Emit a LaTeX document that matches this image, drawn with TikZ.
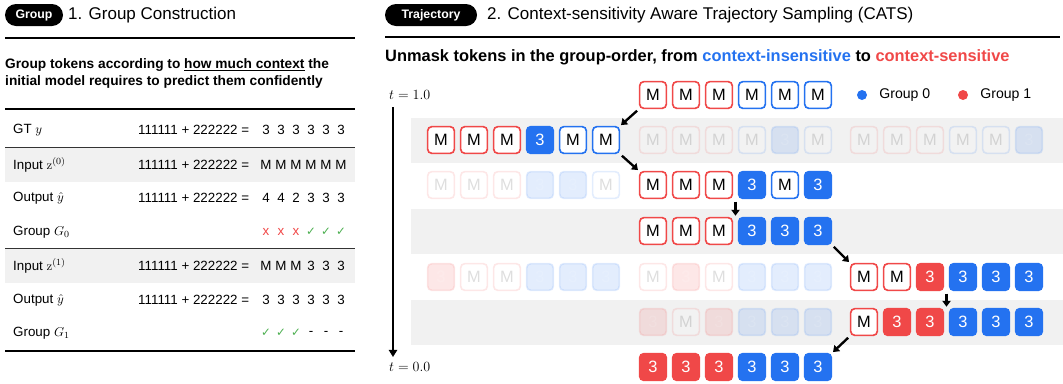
\documentclass[tikz,border=0pt]{standalone}
\usepackage{amsmath,amssymb}
\usepackage[no-math]{fontspec}
\setmainfont{Liberation Sans}
\newfontfamily\symfont{DejaVu Sans}
\usetikzlibrary{arrows.meta, positioning, calc}
\definecolor{catsred}{RGB}{240,72,72}
\definecolor{catsblue}{RGB}{36,114,240}
\definecolor{catsgreen}{RGB}{76,175,80}
\definecolor{bandgrey}{RGB}{241,241,241}
% one row of six tokens: [extra options]{name}{x of first}{y}{style/text list}
\newcommand{\tokrow}[5][]{%
  \foreach \s/\c [count=\k from 0] in {#5}
    \node[\s,#1] (#2\k) at ({#3+\k*33},#4) {\c};}
\newcommand{\okmark}{{\symfont\color{catsgreen}\fontsize{10}{10}\selectfont ✓}}
\newcommand{\nomark}{{\color{catsred}x}}

\begin{document}
\begin{tikzpicture}[
  x=0.03cm, y=-0.03cm,
  badge/.style={fill=black, text=white, rounded corners=0.33cm,
                minimum height=0.66cm, inner sep=0pt,
                font=\bfseries\fontsize{10.5}{10.5}\selectfont},
  head/.style={anchor=west, inner sep=0pt, font=\fontsize{14.5}{14.5}\selectfont},
  lead/.style={anchor=west, inner sep=0pt, align=left,
               font=\bfseries\fontsize{11.7}{14.5}\selectfont},
  rule/.style={line width=2.4pt},
  thinrule/.style={line width=0.9pt, black!80},
  cell/.style={inner sep=0pt, font=\fontsize{11.4}{11.4}\selectfont},
  tok/.style={minimum size=0.8cm, inner sep=0pt, rounded corners=3.5pt,
              line width=1.4pt, font=\fontsize{14}{14}\selectfont},
  mR/.style={tok, draw=catsred, fill=white},
  mB/.style={tok, draw=catsblue, fill=white},
  fR/.style={tok, draw=catsred, fill=catsred, text=white},
  fB/.style={tok, draw=catsblue, fill=catsblue, text=white},
  ghost/.style={opacity=0.13},
  dot/.style={circle, minimum size=0.3cm, inner sep=0pt},
  legend/.style={inner sep=0pt, font=\fontsize{12}{12}\selectfont},
  tlab/.style={anchor=west, inner sep=0pt, font=\fontsize{12}{12}\selectfont},
  stepArr/.style={-{Triangle[length=5pt,width=7pt]}, line width=2pt,
                  shorten <=2pt, shorten >=1pt},
  timeArr/.style={-{Triangle[length=6pt,width=7pt]}, line width=2.2pt}
]
\useasboundingbox (0,0) rectangle (1063,383);

%%% 1. group construction
\node[badge, minimum width=1.74cm] (gBadge) at (34,15) {Group};
\node[head] (gTitle) at (68,15) {1. Group Construction};
\draw[rule] (5,38) -- (355,38);
\node[lead] (gLead) at (5,73.5)
  {Group tokens according to \underline{how much context} the\\
   initial model requires to predict them confidently};
% table
\fill[bandgrey] (5,148) rectangle (355,182);
\fill[bandgrey] (5,249) rectangle (355,283);
\draw[rule] (5,109) -- (355,109);
\draw[thinrule] (5,147.5) -- (355,147.5);
\draw[thinrule] (5,248.5) -- (355,248.5);
\draw[rule] (5,351) -- (355,351);
\foreach \y/\lab [count=\i] in {130/GT $y$, 165/Input $\mathrm{z}^{(0)}$,
    198/Output $\hat{y}$, 232/Group $G_0$, 266/Input $\mathrm{z}^{(1)}$,
    300/Output $\hat{y}$, 333/Group $G_1$}
  \node[cell, anchor=west] (lab\i) at (13,\y) {\lab};
\foreach \y/\i in {130/1,165/2,198/3,266/5,300/6}
  \node[cell, anchor=west] (eq\i) at (138,\y) {111111 + 222222 =};
\foreach \y/\row/\list in {130/gt/{3,3,3,3,3,3}, 165/inz/{M,M,M,M,M,M},
    198/outa/{4,4,2,3,3,3}, 232/ga/{\nomark,\nomark,\nomark,\okmark,\okmark,\okmark},
    266/inzz/{M,M,M,3,3,3}, 300/outb/{3,3,3,3,3,3},
    333/gb/{\okmark,\okmark,\okmark,-,-,-}}
  \foreach \c [count=\k from 0] in \list
    \node[cell] (\row\k) at ({266+15*\k},\y) {\c};

%%% 2. trajectory sampling
\node[badge, minimum width=2.76cm] (tBadge) at (431,15) {Trajectory};
\node[head] (tTitle) at (487,15)
  {2. Context-sensitivity Aware Trajectory Sampling (CATS)};
\draw[rule] (385,37) -- (1060,37);
\node[lead, font=\bfseries\fontsize{14}{14}\selectfont] (tLead) at (385,57)
  {Unmask tokens in the group-order, from
   \textcolor{catsblue}{context-insensitive} to
   \textcolor{catsred}{context-sensitive}};
% grey bands behind odd steps
\foreach \y in {140,231,322}
  \fill[bandgrey] (411,\y-22.5) rectangle (1063,\y+22.5);
% time axis
\node[tlab] (tTop) at (389,95) {$t = 1.0$};
\node[tlab] (tBot) at (389,367) {$t = 0.0$};
\coordinate (axTop) at (393,107);
\coordinate (axBot) at (393,357);
\draw[timeArr] (axTop) -- (axBot);
% legend
\node[dot, fill=catsblue] (leg0dot) at (862,95) {};
\node[legend, right=0.36cm of leg0dot] (leg0) {Group 0};
\node[dot, fill=catsred] (leg1dot) at (963,95) {};
\node[legend, right=0.36cm of leg1dot] (leg1) {Group 1};

% token rows (a/b/c = left/middle/right slot)
\tokrow{r0b}{653}{95}{mR/M,mR/M,mR/M,mB/M,mB/M,mB/M}
\tokrow{r1a}{441}{140}{mR/M,mR/M,mR/M,fB/3,mB/M,mB/M}
\tokrow[ghost]{r1b}{653}{140}{mR/M,mR/M,mR/M,mB/M,fB/3,mB/M}
\tokrow[ghost]{r1c}{864}{140}{mR/M,mR/M,mR/M,mB/M,mB/M,fB/3}
\tokrow[ghost]{r2a}{441}{185}{mR/M,mR/M,mR/M,fB/3,fB/3,mB/M}
\tokrow{r2b}{653}{185}{mR/M,mR/M,mR/M,fB/3,mB/M,fB/3}
\tokrow{r3b}{653}{231}{mR/M,mR/M,mR/M,fB/3,fB/3,fB/3}
\tokrow[ghost]{r4a}{441}{277}{fR/3,mR/M,mR/M,fB/3,fB/3,fB/3}
\tokrow[ghost]{r4b}{653}{277}{mR/M,fR/3,mR/M,fB/3,fB/3,fB/3}
\tokrow{r4c}{864}{277}{mR/M,mR/M,fR/3,fB/3,fB/3,fB/3}
\tokrow[ghost]{r5b}{653}{322}{fR/3,mR/M,fR/3,fB/3,fB/3,fB/3}
\tokrow{r5c}{864}{322}{mR/M,fR/3,fR/3,fB/3,fB/3,fB/3}
\tokrow{r6b}{653}{367}{fR/3,fR/3,fR/3,fB/3,fB/3,fB/3}

% sampling path
\draw[stepArr] (r0b0.south west) -- (r1a5.north east);
\draw[stepArr] (r1a5.south east) -- (r2b0.north west);
\draw[stepArr] ($(r2b2.south east)!0.5!(r2b3.south west)$)
  -- ($(r3b2.north east)!0.5!(r3b3.north west)$);
\draw[stepArr] (r3b5.south east) -- (r4c0.north west);
\draw[stepArr] ($(r4c2.south east)!0.5!(r4c3.south west)$)
  -- ($(r5c2.north east)!0.5!(r5c3.north west)$);
\draw[stepArr] (r5c0.south west) -- (r6b5.north east);
\end{tikzpicture}
\end{document}
